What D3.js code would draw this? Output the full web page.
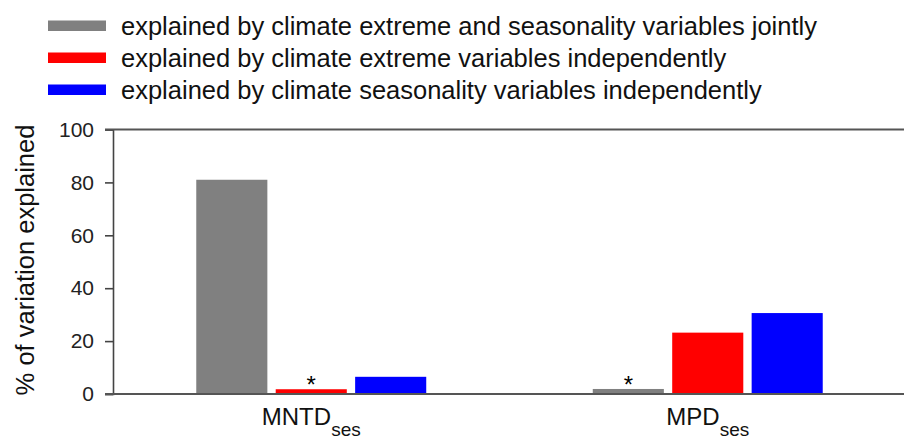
<!DOCTYPE html>
<html>
<head>
<meta charset="utf-8">
<script src="https://cdn.jsdelivr.net/npm/d3@7"></script>
<style>
  body { margin: 0; background: #fff; }
  svg { display: block; font-family: Arial, "Liberation Sans", sans-serif; }
</style>
</head>
<body>
<div class="canvas"></div>
<script>
// data
const groups = ['MNTD', 'MPD'];
const series = ['joint', 'extreme', 'seasonality'];
const seriesLabels = [
  'explained by climate extreme and seasonality variables jointly',
  'explained by climate extreme variables independently',
  'explained by climate seasonality variables independently'
];
const seriesColors = ['#808080', '#ff0000', '#0000ff'];
const values = {
  MNTD: [81, 1.8, 6.5],
  MPD: [1.9, 23.2, 30.6]
};
// asterisks: [group, series index]
const stars = [['MNTD', 1], ['MPD', 0]];
const yTicks = [0, 20, 40, 60, 80, 100];

// create svg
const svg = d3.select('.canvas')
  .append('svg')
    .attr('width', 904)
    .attr('height', 441);

const plotLeft = 113, plotRight = 906, plotTop = 129.5, plotBottom = 394;

// scales
const y = d3.scaleLinear().domain([0, 100]).range([plotBottom, plotTop]);
const x0 = d3.scaleBand().domain(groups).range([plotLeft, plotRight]).paddingInner(0.42).paddingOuter(0.21);
const x1 = d3.scaleBand().domain(series).range([0, x0.bandwidth()]).paddingInner(0.105);

// bars
const g = svg.selectAll('g.group')
  .data(groups)
  .enter()
  .append('g')
    .attr('class', 'group')
    .attr('transform', d => `translate(${x0(d)},0)`);

g.selectAll('rect')
  .data(d => values[d].map((v, i) => ({ key: series[i], v, i })))
  .enter()
  .append('rect')
    .attr('x', d => x1(d.key))
    .attr('width', x1.bandwidth())
    .attr('y', d => y(d.v))
    .attr('height', d => y(0) - y(d.v))
    .attr('fill', d => seriesColors[d.i]);

// asterisks
svg.selectAll('text.star')
  .data(stars)
  .enter()
  .append('text')
    .attr('class', 'star')
    .attr('x', d => x0(d[0]) + x1(series[d[1]]) + x1.bandwidth() / 2)
    .attr('y', d => y(values[d[0]][d[1]]) + 4)
    .attr('text-anchor', 'middle')
    .attr('font-size', '24px')
    .attr('fill', '#000')
    .text('*');

// y axis
const yAxis = svg.append('g')
  .attr('transform', `translate(${plotLeft},0)`)
  .call(d3.axisLeft(y).tickValues(yTicks).tickSize(8).tickPadding(11));
yAxis.select('.domain').attr('stroke', '#444').attr('stroke-width', 1.6);
yAxis.selectAll('.tick line').attr('stroke', '#444').attr('stroke-width', 1.6);
yAxis.selectAll('.tick text')
  .attr('font-size', '21px')
  .attr('font-family', 'Arial, "Liberation Sans", sans-serif')
  .attr('fill', '#222');

// top and bottom frame lines
svg.append('line')
  .attr('x1', plotLeft - 8).attr('x2', 904)
  .attr('y1', y(100)).attr('y2', y(100))
  .attr('stroke', '#555').attr('stroke-width', 2);
svg.append('line')
  .attr('x1', plotLeft - 8).attr('x2', 904)
  .attr('y1', y(0)).attr('y2', y(0))
  .attr('stroke', '#555').attr('stroke-width', 2);

// x labels with subscript
const xl = svg.selectAll('text.xlabel')
  .data(groups)
  .enter()
  .append('text')
    .attr('class', 'xlabel')
    .attr('x', d => x0(d) + x0.bandwidth() / 2)
    .attr('y', 425)
    .attr('text-anchor', 'middle')
    .attr('font-size', '24px')
    .attr('fill', '#111');
xl.append('tspan').text(d => d);
xl.append('tspan')
  .attr('font-size', '19px')
  .attr('dy', 11)
  .text('ses');

// y axis title
svg.append('text')
  .attr('transform', `translate(34,260) rotate(-90)`)
  .attr('text-anchor', 'middle')
  .attr('font-size', '25.5px')
  .attr('fill', '#111')
  .text('% of variation explained');

// legend
const legend = svg.selectAll('g.legend')
  .data(seriesLabels)
  .enter()
  .append('g')
    .attr('class', 'legend')
    .attr('transform', (d, i) => `translate(48,${25.5 + i * 32})`);
legend.append('rect')
  .attr('x', 0).attr('y', -5)
  .attr('width', 58).attr('height', 10.5)
  .attr('fill', (d, i) => seriesColors[i]);
legend.append('text')
  .attr('x', 73).attr('y', 9)
  .attr('font-size', '25.5px')
  .attr('fill', '#111')
  .text(d => d);
</script>
</body>
</html>
